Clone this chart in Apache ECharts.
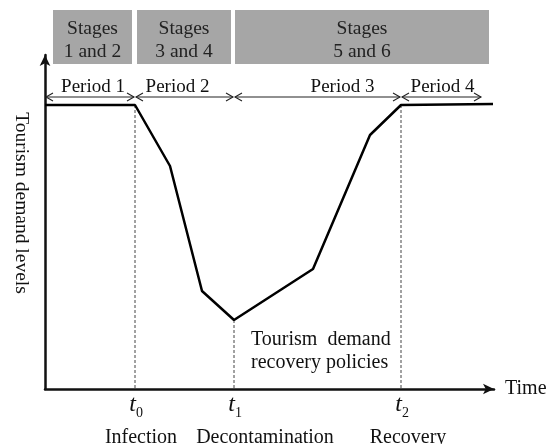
<!DOCTYPE html>
<html><head><meta charset="utf-8">
<script src="https://cdn.jsdelivr.net/npm/echarts@6/dist/echarts.min.js"></script>
<style>html,body{margin:0;padding:0;background:#fff}#c{width:553px;height:444px}</style>
</head><body><div id="c"></div>
<script>
// ---------- data ----------
var times  = [0, 90, 125, 157, 189, 268, 325, 356, 448];
var levels = [284, 284, 223, 98, 69, 120, 254, 284, 285];
var markTimes = [90, 189, 356];
var markSubs  = ['0', '1', '2'];
var markNames = ['Infection', 'Decontamination', 'Recovery'];
var periodStarts = [0, 90, 189, 356];
var periodEnds   = [90, 189, 356, 437];
var periodNames  = ['Period 1', 'Period 2', 'Period 3', 'Period 4'];
var stageStarts = [8, 92, 190];
var stageEnds   = [87, 186, 444];
var stageNames  = ['Stages\n1 and 2', 'Stages\n3 and 4', 'Stages\n5 and 6'];
var xName = 'Time';
var yName = 'Tourism demand levels';
var noteText = 'Tourism  demand\nrecovery policies';

// ---------- layout / style ----------
var FONT = 'Liberation Serif';
var INK = '#111';
var periodY = 292;
var periodLabelShift = [3, -7, 25, 1];
var stageY0 = 325, stageY1 = 379;
var nameShift = [6, 31, 7];

var lineData = times.map(function (t, i) { return [t, levels[i]]; });
var markData = markTimes.map(function (t) { return [t, levels[times.indexOf(t)]]; });
var periodData = periodStarts.map(function (s, i) { return [s, periodEnds[i]]; });
var stageData = stageStarts.map(function (s, i) { return [s, stageEnds[i]]; });

var chart = echarts.init(document.getElementById('c'), null, {renderer: 'canvas'});
chart.setOption({
  animation: false,
  backgroundColor: '#fff',
  textStyle: {fontFamily: FONT},
  grid: {left: 45, right: 59, top: 55, bottom: 55},
  xAxis: {
    type: 'value', min: 0, max: 449,
    axisLine: {lineStyle: {color: INK, width: 2.5}, symbol: ['none', 'arrow'], symbolSize: [8, 11]},
    axisTick: {show: false}, axisLabel: {show: false}, splitLine: {show: false},
    name: xName, nameLocation: 'end', nameGap: 11,
    nameTextStyle: {fontFamily: FONT, fontSize: 20, color: INK}
  },
  yAxis: {
    type: 'value', min: 0, max: 334,
    axisLine: {show: true, lineStyle: {color: INK, width: 2.5}, symbol: ['none', 'arrow'], symbolSize: [8, 11]},
    axisTick: {show: false}, axisLabel: {show: false}, splitLine: {show: false}
  },
  graphic: [
    {type: 'text', x: 21, y: 203, rotation: -Math.PI / 2,
     style: {text: yName, fontFamily: FONT, fontSize: 19.5, fill: INK, align: 'center', verticalAlign: 'middle'}},
    {type: 'text', left: 251, top: 328,
     style: {text: noteText, fontFamily: FONT, fontSize: 20, lineHeight: 23, fill: INK}}
  ],
  series: [
    {
      type: 'line', data: lineData, symbol: 'none', silent: true,
      lineStyle: {color: '#000', width: 2.5}, z: 5
    },
    {
      type: 'custom', data: markData, silent: true, z: 3,
      renderItem: function (params, api) {
        var i = params.dataIndex;
        var top = api.coord([api.value(0), api.value(1)]);
        var bot = api.coord([api.value(0), 0]);
        return {type: 'group', children: [
          {type: 'line', shape: {x1: top[0], y1: top[1], x2: bot[0], y2: bot[1]},
           style: {stroke: '#444', lineWidth: 1, lineDash: [3, 2]}},
          {type: 'text', x: bot[0] + 1, y: bot[1] + 16,
           style: {text: 't', fontFamily: FONT, fontStyle: 'italic', fontSize: 24, fill: INK, align: 'right', verticalAlign: 'middle'}},
          {type: 'text', x: bot[0] + 1, y: bot[1] + 24,
           style: {text: markSubs[i], fontFamily: FONT, fontSize: 14, fill: INK, align: 'left', verticalAlign: 'middle'}},
          {type: 'text', x: bot[0] + nameShift[i], y: bot[1] + 49,
           style: {text: markNames[i], fontFamily: FONT, fontSize: 20, fill: INK, align: 'center', verticalAlign: 'middle'}}
        ]};
      }
    },
    {
      type: 'custom', data: periodData, silent: true, z: 4,
      renderItem: function (params, api) {
        var i = params.dataIndex;
        var a = api.coord([api.value(0), periodY]);
        var b = api.coord([api.value(1), periodY]);
        var y = a[1];
        var st = {stroke: '#222', lineWidth: 1.1, fill: 'none'};
        return {type: 'group', children: [
          {type: 'line', shape: {x1: a[0] + 1, y1: y, x2: b[0] - 1, y2: y}, style: st},
          {type: 'polyline', shape: {points: [[a[0] + 8, y - 4], [a[0] + 1, y], [a[0] + 8, y + 4]]}, style: st},
          {type: 'polyline', shape: {points: [[b[0] - 8, y - 4], [b[0] - 1, y], [b[0] - 8, y + 4]]}, style: st},
          {type: 'text', x: (a[0] + b[0]) / 2 + periodLabelShift[i], y: y - 10,
           style: {text: periodNames[i], fontFamily: FONT, fontSize: 19, fill: INK, align: 'center', verticalAlign: 'middle'}}
        ]};
      }
    },
    {
      type: 'custom', data: stageData, silent: true, z: 4,
      renderItem: function (params, api) {
        var i = params.dataIndex;
        var p0 = api.coord([api.value(0), stageY1]);
        var p1 = api.coord([api.value(1), stageY0]);
        return {type: 'group', children: [
          {type: 'rect', shape: {x: p0[0], y: p0[1], width: p1[0] - p0[0], height: p1[1] - p0[1]},
           style: {fill: '#a6a6a6', stroke: 'none'}},
          {type: 'text', x: (p0[0] + p1[0]) / 2, y: (p0[1] + p1[1]) / 2 + 3,
           style: {text: stageNames[i], fontFamily: FONT, fontSize: 19.5, lineHeight: 23, fill: '#222', align: 'center', verticalAlign: 'middle'}}
        ]};
      }
    }
  ]
});
</script>
</body></html>
